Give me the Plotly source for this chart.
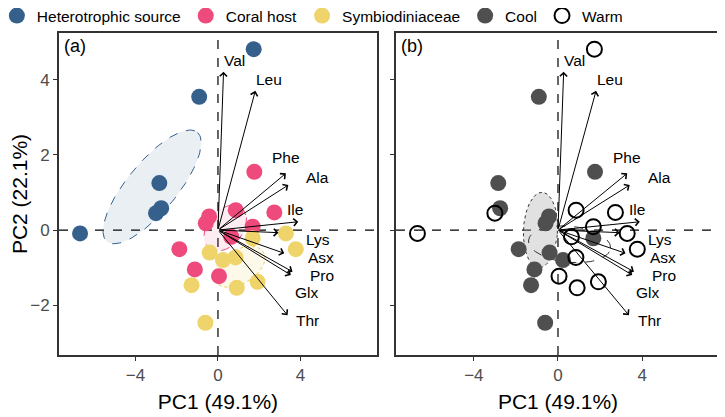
import numpy as np
import plotly.graph_objects as go

# ---------------- data ----------------
# sample scores (PC1, PC2), source group and temperature group
pc1 = [1.73, -0.91, -2.84, -3.00, -2.75, -6.68,
       1.76, 0.86, 2.73, -0.43, -0.59, 1.68, 0.64, -1.87, -1.12, 0.05,
       3.29, 3.77, 1.68, -0.40, 0.24, 0.85, -1.28, 0.91, 1.92, -0.61]
pc2 = [4.82, 3.55, 1.25, 0.45, 0.58, -0.09,
       1.55, 0.53, 0.47, 0.36, 0.18, 0.09, -0.18, -0.51, -1.05, -1.23,
       -0.09, -0.51, -0.22, -0.60, -0.80, -0.73, -1.47, -1.54, -1.38, -2.47]
source = (["Heterotrophic source"] * 6 + ["Coral host"] * 10 + ["Symbiodiniaceae"] * 10)
temperature = ["Warm", "Cool", "Cool", "Warm", "Cool", "Warm",
               "Cool", "Warm", "Warm", "Cool", "Cool", "Warm", "Warm", "Cool", "Cool", "Warm",
               "Warm", "Warm", "Cool", "Cool", "Cool", "Warm", "Cool", "Warm", "Warm", "Cool"]

# loadings (arrow tips) and label anchor positions
var_names = ["Val", "Leu", "Phe", "Ala", "Ile", "Lys", "Asx", "Pro", "Glx", "Thr"]
load_pc1 = [0.27, 1.81, 3.29, 3.41, 3.89, 2.93, 3.21, 3.61, 3.53, 3.37]
load_pc2 = [4.22, 3.71, 1.51, 1.20, 0.22, -0.07, -0.62, -1.11, -1.20, -2.27]
label_pc1 = [0.78, 2.48, 3.29, 4.81, 3.74, 4.85, 4.97, 5.05, 4.30, 4.33]
label_pc2 = [4.53, 4.02, 1.93, 1.39, 0.55, -0.25, -0.72, -1.20, -1.67, -2.40]

# group ellipses: centre and two semi-axis vectors
ell_groups = ["Heterotrophic source", "Coral host", "Symbiodiniaceae", "Cool", "Warm"]
ell_cx = [-3.19, 0.35, 1.04, -0.83, 0.55]
ell_cy = [1.15, 0.05, -0.98, 0.00, -0.38]
ell_ax = [2.20, 1.00, 1.20, 0.80, 1.95]
ell_ay = [1.45, 0.35, 0.35, -0.10, -0.10]
ell_bx = [0.90, -0.25, -0.30, 0.15, 0.05]
ell_by = [-0.44, 0.50, 0.42, 1.00, 0.48]

source_groups = ["Heterotrophic source", "Coral host", "Symbiodiniaceae"]
temp_groups = ["Cool", "Warm"]

x_title = "PC1 (49.1%)"
y_title = "PC2 (22.1%)"
x_ticks = [-4, 0, 4]
y_ticks = [-2, 0, 2, 4]

# ---------------- styles ----------------
FONT = "Arial, Liberation Sans, sans-serif"
src_color = {"Heterotrophic source": "#35608C", "Coral host": "#EE4B7C", "Symbiodiniaceae": "#EFD46C"}
ell_style = {
    "Heterotrophic source": dict(fill="rgba(53,96,140,0.10)", line="#35608C", dash="dash"),
    "Coral host": dict(fill="rgba(238,75,124,0.10)", line="#EE4B7C", dash="dash"),
    "Symbiodiniaceae": dict(fill="rgba(239,212,108,0.14)", line="#E8CB55", dash="dot"),
    "Cool": dict(fill="rgba(170,170,170,0.35)", line="#333333", dash="dot"),
    "Warm": dict(fill="rgba(255,255,255,0)", line="#333333", dash="dash"),
}
ell_panel = {"Heterotrophic source": 1, "Coral host": 1, "Symbiodiniaceae": 1, "Cool": 2, "Warm": 2}

fig = go.Figure()

t = np.linspace(0, 2 * np.pi, 120)
for i, g in enumerate(ell_groups):
    ex = ell_cx[i] + ell_ax[i] * np.cos(t) + ell_bx[i] * np.sin(t)
    ey = ell_cy[i] + ell_ay[i] * np.cos(t) + ell_by[i] * np.sin(t)
    p = ell_panel[g]
    st = ell_style[g]
    fig.add_trace(go.Scatter(
        x=ex, y=ey, mode="lines", fill="toself", fillcolor=st["fill"],
        line=dict(color=st["line"], width=1, dash=st["dash"]),
        showlegend=False, hoverinfo="skip",
        xaxis="x" if p == 1 else "x2", yaxis="y" if p == 1 else "y2"))

pc1_a = np.array(pc1)
pc2_a = np.array(pc2)
src_a = np.array(source)
tmp_a = np.array(temperature)

for g in source_groups:
    m = src_a == g
    fig.add_trace(go.Scatter(
        x=pc1_a[m], y=pc2_a[m], mode="markers", name=g,
        marker=dict(size=16, color=src_color[g], line=dict(width=0)),
        xaxis="x", yaxis="y"))

for g in temp_groups:
    m = tmp_a == g
    if g == "Cool":
        mk = dict(size=16, color="#4F4F4F", symbol="circle", line=dict(width=0))
    else:
        mk = dict(size=15, color="black", symbol="circle-open", line=dict(width=2, color="black"))
    fig.add_trace(go.Scatter(
        x=pc1_a[m], y=pc2_a[m], mode="markers", name=g, marker=mk,
        xaxis="x2", yaxis="y2"))

annotations = []
shapes = []
for xr, yr in [("x", "y"), ("x2", "y2")]:
    # dashed zero lines
    shapes.append(dict(type="line", xref=xr + " domain", yref=yr, x0=0, x1=1, y0=0, y1=0,
                       line=dict(color="black", width=1.2, dash="dash"), layer="below"))
    shapes.append(dict(type="line", xref=xr, yref=yr + " domain", x0=0, x1=0, y0=0, y1=1,
                       line=dict(color="black", width=1.2, dash="dash"), layer="below"))
    for i, v in enumerate(var_names):
        annotations.append(dict(
            x=load_pc1[i], y=load_pc2[i], ax=0, ay=0, xref=xr, yref=yr, axref=xr, ayref=yr,
            text="", showarrow=True, arrowhead=4, arrowsize=1.4, arrowwidth=1,
            arrowcolor="black", standoff=0, startstandoff=0))
        annotations.append(dict(
            x=label_pc1[i], y=label_pc2[i], xref=xr, yref=yr, text=v, showarrow=False,
            font=dict(family=FONT, size=15.5, color="black")))

annotations.append(dict(x=0.008, y=0.997, xref="x domain", yref="y domain", text="(a)",
                        showarrow=False, xanchor="left", yanchor="top",
                        font=dict(family=FONT, size=18, color="black")))
annotations.append(dict(x=0.008, y=0.997, xref="x2 domain", yref="y2 domain", text="(b)",
                        showarrow=False, xanchor="left", yanchor="top",
                        font=dict(family=FONT, size=18, color="black")))

axis_common = dict(
    range=[-7.7, 7.7], showgrid=False, zeroline=False, showline=True, mirror=True,
    linecolor="#333333", linewidth=2, ticks="outside", ticklen=4, tickwidth=1,
    tickcolor="#333333", tickvals=x_ticks, automargin=False,
    tickfont=dict(family=FONT, size=17, color="#4D4D4D"),
)
yaxis_common = dict(
    range=[-3.33, 5.25], showgrid=False, zeroline=False, showline=True, mirror=True,
    linecolor="#333333", linewidth=2, ticks="outside", ticklen=4, tickwidth=1,
    tickcolor="#333333", tickvals=y_ticks, automargin=False,
    tickfont=dict(family=FONT, size=17, color="#4D4D4D"),
)

fig.update_layout(
    template="none",
    width=725, height=417,
    margin=dict(l=51, r=13, t=25, b=70, autoexpand=False),
    paper_bgcolor="white", plot_bgcolor="white",
    font=dict(family=FONT, size=15, color="black"),
    xaxis=dict(domain=[0, 0.481], anchor="y",
               title=dict(text=x_title, font=dict(family=FONT, size=21, color="black"), standoff=10),
               **axis_common),
    xaxis2=dict(domain=[0.5098, 1], anchor="y2",
                title=dict(text=x_title, font=dict(family=FONT, size=21, color="black"), standoff=10),
                **axis_common),
    yaxis=dict(anchor="x",
               title=dict(text=y_title, font=dict(family=FONT, size=21, color="black"), standoff=8),
               **yaxis_common),
    yaxis2=dict(anchor="x2", matches="y", showticklabels=False, **yaxis_common),
    legend=dict(orientation="h", x=-0.094, xanchor="left", y=1.0, yanchor="bottom",
                font=dict(family=FONT, size=15.5, color="black"), bgcolor="rgba(0,0,0,0)",
                itemsizing="trace", traceorder="normal"),
    shapes=shapes, annotations=annotations,
)

fig.write_html("out.html")
